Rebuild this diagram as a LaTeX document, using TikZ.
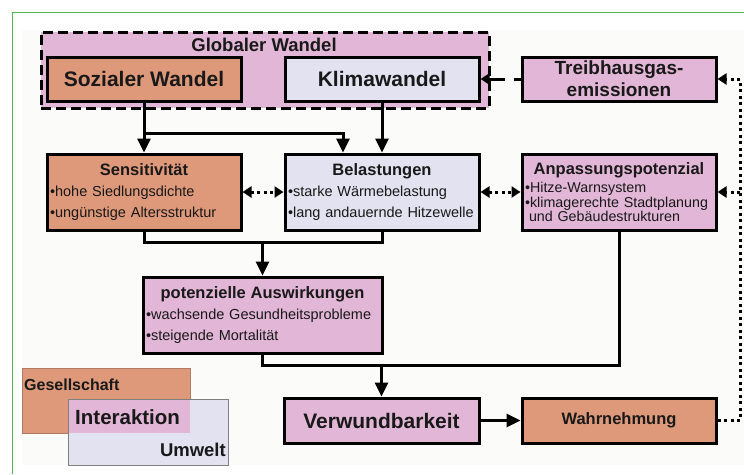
\documentclass[tikz,border=0pt]{standalone}
\usepackage{fontspec}
\setmainfont{Liberation Sans}
\usetikzlibrary{arrows.meta, positioning, calc}
\definecolor{socorange}{RGB}{222,152,122}
\definecolor{mauve}{RGB}{226,182,214}
\definecolor{lavender}{RGB}{226,226,240}
\definecolor{framegreen}{RGB}{80,184,80}
\definecolor{paper}{RGB}{251,251,249}

\newcommand{\boxtitle}[1]{{\centering\fontsize{16.5}{20}\selectfont\bfseries #1\par}}
\newcommand{\bul}{•}

\tikzset{
  box/.style={draw, line width=3pt, minimum width=194pt, inner xsep=3pt, inner ysep=0pt, text=black!90},
  bigbox/.style={box, minimum height=44pt, font=\fontsize{21}{25}\selectfont\bfseries},
  infobox/.style={box, minimum height=76pt, text width=188pt, align=left,
    font=\fontsize{14.5}{21}\selectfont, execute at begin node=\setlength{\parindent}{0pt}},
  legend/.style={inner sep=0pt, text=black!90},
  link/.style={line width=3pt},
  flow/.style={line width=3pt, -{Triangle[length=14pt,width=13pt]}},
  dashflow/.style={line width=3pt, -{Triangle[length=9pt,width=11pt]}, dash pattern=on 7pt off 9pt on 30pt},
  dotflow/.style={line width=3pt, -{Triangle[length=9pt,width=11pt]}, dash pattern=on 3pt off 3.5pt},
  dotboth/.style={dotflow, {Triangle[length=9pt,width=11pt]}-{Triangle[length=9pt,width=11pt]}},
  dotline/.style={line width=3pt, dash pattern=on 3pt off 3.5pt}
}

\begin{document}
\begin{tikzpicture}[x=1pt, y=-1pt]
\useasboundingbox (0,0) rectangle (744,474);
% page
\fill[paper] (22,30) rectangle (744,465);
\draw[framegreen, line width=1pt] (12,474) -- (12,12) -- (744,12);

% global change frame
\node[draw, fill=mauve, line width=3pt, dash pattern=on 10pt off 5pt,
      minimum width=448pt, minimum height=76pt] (globe) at (265,70) {};
\node[legend, font=\fontsize{18.5}{22}\selectfont\bfseries] (globetitle) at (264,45) {Globaler Wandel};

\node[bigbox, fill=socorange] (soz) at (144,79) {Sozialer Wandel};
\node[bigbox, fill=lavender] (klima) at (382,79) {Klimawandel};
\node[bigbox, fill=mauve, align=center, font=\fontsize{19}{22}\selectfont\bfseries] (treib) at (619,79) {Treibhausgas-\\emissionen};

\node[infobox, fill=socorange] (sens) at (144,192)
  {\boxtitle{Sensitivität}\bul hohe Siedlungsdichte\par\bul ungünstige Altersstruktur};
\node[infobox, fill=lavender] (bel) at (382,192)
  {\boxtitle{Belastungen}\bul starke Wärmebelastung\par\bul lang andauernde Hitzewelle};
\node[infobox, fill=mauve, font=\fontsize{14.3}{14.5}\selectfont] (anp) at (619,192)
  {\boxtitle{Anpassungspotenzial}\vspace{4pt}\bul Hitze-Warnsystem\par\bul klimagerechte Stadtplanung\par\hspace*{4pt}und Gebäudestrukturen};

\node[infobox, fill=mauve, minimum width=239pt, text width=233pt] (pot) at (262.5,315)
  {\boxtitle{potenzielle Auswirkungen}\bul wachsende Gesundheitsprobleme\par\bul steigende Mortalität};

\node[bigbox, fill=mauve, minimum height=45pt, minimum width=195pt] (verw) at (381.5,420.5) {Verwundbarkeit};
\node[bigbox, fill=socorange, minimum height=45pt, font=\fontsize{16.5}{20}\selectfont\bfseries] (wahr) at (619,420.5) {Wahrnehmung};

% connectors
\coordinate (split) at (144,133);
\coordinate (merge) at (262.5,242);
\coordinate (gather) at (381.5,365);
\coordinate (rail) at (740,79);

\draw[flow] (soz.south) -- (sens.north);
\draw[flow] (split) -| ([xshift=-39pt]bel.north);
\draw[flow] (klima.south) -- (bel.north);
\draw[dashflow] (treib.west) -- (klima.east);

\draw[dotboth] (sens.east) -- (bel.west);
\draw[dotboth] (bel.east) -- (anp.west);

\draw[link] (sens.south) |- (merge) -| (bel.south);
\draw[flow] (merge) -- (pot.north);
\draw[link] (pot.south) |- (gather) -| (anp.south);
\draw[flow] (gather) -- (verw.north);
\draw[flow] (verw.east) -- (wahr.west);

\draw[dotline] (wahr.east) -| (rail);
\foreach \n in {treib, anp}
{
    \draw[dotflow] (rail |- \n.east) -- (\n.east);
}

% legend
\filldraw[fill=socorange, draw=socorange!80!black, line width=0.6pt] (22,368) rectangle (190,433);
\filldraw[fill=lavender, draw=gray, line width=0.8pt] (68,399) rectangle (228,465);
\fill[mauve] (68,399) rectangle (190,433);
\draw[gray, line width=0.8pt] (68,433) -- (68,399) -- (190,399);
\node[legend, anchor=west, font=\fontsize{16}{19}\selectfont\bfseries] (gesell) at (24,385) {Gesellschaft};
\node[legend, anchor=west, font=\fontsize{20.5}{24}\selectfont\bfseries] (inter) at (75,417) {Interaktion};
\node[legend, anchor=east, font=\fontsize{18.5}{22}\selectfont\bfseries] (umwelt) at (226,450) {Umwelt};
\end{tikzpicture}
\end{document}
